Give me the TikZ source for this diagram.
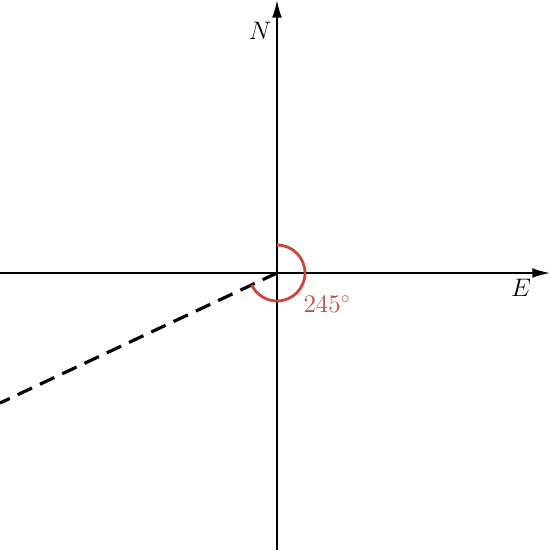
\documentclass[tikz,border=0pt]{standalone}
\usepackage{amsmath,amssymb}
\usepackage{tikz}
\usetikzlibrary{arrows.meta,positioning,calc}
\definecolor{anglered}{HTML}{C8463C}

\begin{document}
\begin{tikzpicture}[font=\Large,
  axisline/.style={line width=1pt,-{Latex[length=10pt,width=5.5pt]}},
  bearingline/.style={line width=1.8pt,dash pattern=on 9pt off 5pt}]
  \useasboundingbox (-5.54,-5.54) rectangle (5.46,5.46);
  \coordinate (O) at (0,0);
  \coordinate (W) at (-5.54,0);
  \coordinate (Eend) at (5.46,0);
  \coordinate (S) at (0,-5.54);
  \coordinate (Nend) at (0,5.46);
  \coordinate (P) at (-5.54,-2.6);
  \draw[axisline] (W) -- (Eend);
  \draw[axisline] (S) -- (Nend);
  \node (labN) at (-0.34,4.84) {$N$};
  \node (labE) at (4.88,-0.3) {$E$};
  \draw[bearingline] (O) -- (P);
  \draw[anglered,line width=1.6pt] ($(O)+(0,0.56)$) arc[start angle=90,end angle=-155,radius=0.56];
  \node[text=anglered] (ang) at (1.0,-0.62) {$245^\circ$};
\end{tikzpicture}
\end{document}
